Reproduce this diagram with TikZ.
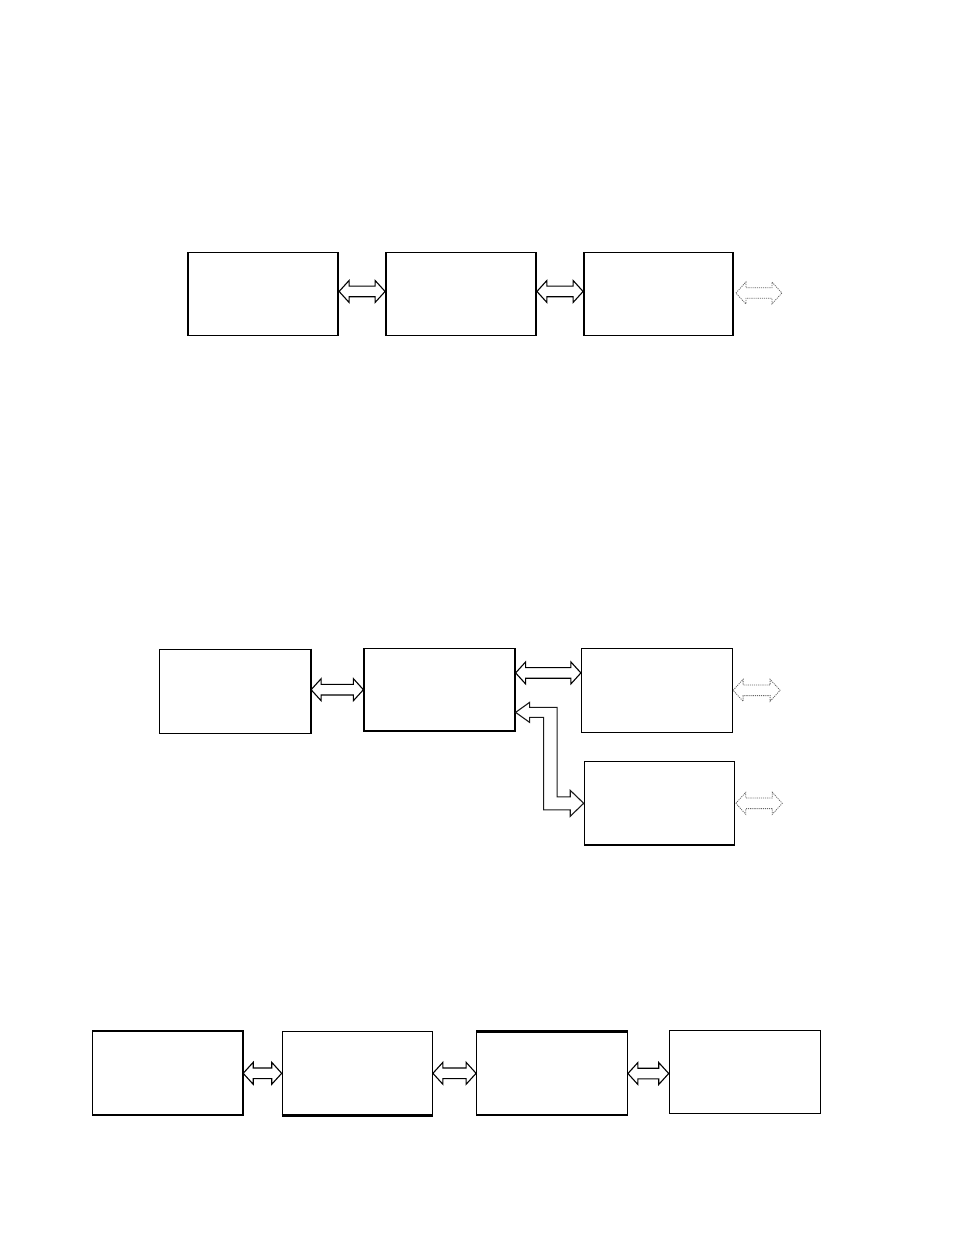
\documentclass[tikz,border=0pt]{standalone}
\usetikzlibrary{calc}
\begin{document}
\begin{tikzpicture}[x=1pt,y=-1pt,
  blk/.style={draw=black, fill=white, rectangle, inner sep=0pt, line width=1.2pt},
  blkthick/.style={blk, line width=1.8pt},
  dbl/.style={draw=black, fill=white, line width=1.1pt, line join=miter,
    to path={let \p1=(\tikztostart), \p2=(\tikztotarget) in
      (\p1) -- ({\x1+10pt},{\y1+11pt}) -- ({\x1+10pt},{\y1+5.3pt}) -- ({\x2-10pt},{\y2+5.3pt})
      -- ({\x2-10pt},{\y2+11pt}) -- (\p2) -- ({\x2-10pt},{\y2-11pt}) -- ({\x2-10pt},{\y2-5.3pt})
      -- ({\x1+10pt},{\y1-5.3pt}) -- ({\x1+10pt},{\y1-11pt}) -- cycle}},
  dotarr/.style={dbl, draw=black!60, densely dotted, line width=0.8pt},
  larrow/.style={draw=black!90, fill=white, line width=1.1pt, line join=miter,
    to path={let \p1=(\tikztostart), \p2=(\tikztotarget) in
      (\p1) -- ({\x1+14pt},{\y1+10pt}) -- ({\x1+14pt},{\y1+5pt}) -- ({\x1+41.5pt},{\y1+5pt})
      -- ({\x1+41.5pt},{\y2+6.5pt}) -- ({\x2-13.5pt},{\y2+6.5pt}) -- ({\x2-13.5pt},{\y2+13pt})
      -- (\p2) -- ({\x2-13.5pt},{\y2-13pt}) -- ({\x2-13.5pt},{\y2-6.5pt})
      -- ({\x1+28pt},{\y2-6.5pt}) -- ({\x1+28pt},{\y1-5pt}) -- ({\x1+14pt},{\y1-5pt})
      -- ({\x1+14pt},{\y1-10pt}) -- cycle}}
]
\useasboundingbox (0,0) rectangle (954,1235);

% ---- Row 1 ----
\node[blkthick, minimum width=150pt, minimum height=83pt] (A) at (263.2,294) {};
\node[blkthick, minimum width=150pt, minimum height=83pt] (B) at (461,294) {};
\node[blkthick, minimum width=149pt, minimum height=83pt] (C) at (658.5,294) {};
\coordinate (ab) at ($(A.north east)!0.47!(A.south east)$);
\coordinate (bc) at ($(B.north east)!0.47!(B.south east)$);
\draw[dbl] (ab) to (ab -| B.west);
\draw[dbl] (bc) to (bc -| C.west);
\coordinate (c0) at ($(C.east)+(2,-1)$);
\coordinate (c1) at ($(c0)+(46,0)$);
\draw[dotarr] (c0) to (c1);

% ---- Row 2 ----
\node[blk, minimum width=151pt, minimum height=84pt] (D) at (235,691.3) {};
\node[blk, minimum width=151pt, minimum height=82.7pt] (E) at (439.5,689.7) {};
\node[blk, minimum width=151pt, minimum height=84pt] (F) at (657,690.3) {};
\node[blk, minimum width=150.4pt, minimum height=83.3pt] (G) at (659.5,803.3) {};
\draw[line width=2pt] (D.north east) -- (D.south east);
\draw[dbl] (E.west -| D.east) to (E.west);
\coordinate (ef) at ($(E.north east)!0.3!(E.south east)$);
\draw[dbl] (ef) to (ef -| F.west);
\coordinate (eg) at ($(E.north east)!0.77!(E.south east)$);
\draw[larrow] (eg) to (G.west);
\coordinate (f1) at ($(F.east)+(47,0)$);
\draw[dotarr] (F.east) to (f1);
\coordinate (g0) at ($(G.east)+(0.5,0)$);
\coordinate (g1) at ($(g0)+(46.5,0)$);
\draw[dotarr] (g0) to (g1);

% ---- Row 3 ----
\node[blk, minimum width=150pt, minimum height=83.3pt] (H) at (167.6,1073.3) {};
\node[blk, minimum width=150pt, minimum height=83.3pt] (I) at (357.3,1073.3) {};
\node[blk, minimum width=150.6pt, minimum height=83pt] (J) at (552,1073.5) {};
\node[blk, minimum width=151.4pt, minimum height=83pt] (K) at (745,1071.8) {};
\draw[line width=2.2pt] (H.north west) -- (H.north east) -- (H.south east);
\draw[line width=2.2pt] (I.south west) -- (I.south east);
\draw[line width=2.2pt] (J.north west) -- (J.north east);
\draw[dbl] (H.east) to (H.east -| I.west);
\draw[dbl] (I.east) to (I.east -| J.west);
\draw[dbl] (J.east) to (J.east -| K.west);
\end{tikzpicture}
\end{document}
